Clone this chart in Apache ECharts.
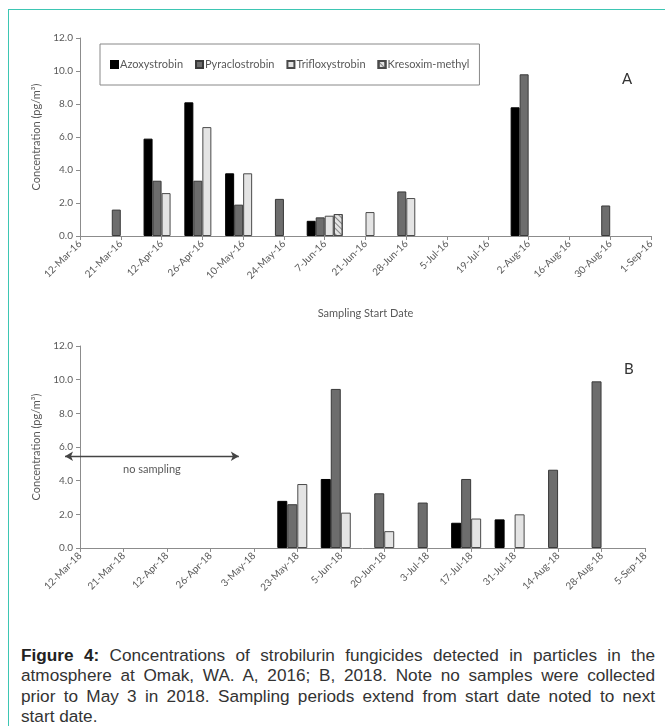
<!DOCTYPE html>
<html>
<head>
<meta charset="utf-8">
<script src="https://cdn.jsdelivr.net/npm/echarts@6/dist/echarts.min.js"></script>
<style>
  html, body { margin:0; padding:0; background:#fff; }
  #wrap { position:relative; width:665px; height:726px; overflow:hidden; }
  #frame { position:absolute; left:8px; top:9px; width:680px; height:740px; border-left:1.5px solid #3dc6b3; border-top:1.5px solid #3dc6b3; box-sizing:border-box; }
  #chart { position:absolute; left:0; top:0; width:665px; height:640px; }
  #caption { position:absolute; left:21px; top:645px; width:634px; font-family:"Liberation Sans",Arial,sans-serif; font-size:17.2px; line-height:20.4px; color:#333; }
  #caption div { text-align:justify; text-align-last:justify; white-space:nowrap; }
  #caption div.last { text-align-last:left; }
  #caption b { color:#222; }
</style>
</head>
<body>
<div id="wrap">
  <div id="frame"></div>
  <div id="chart"></div>
  <div id="caption">
    <div><b>Figure 4:</b> Concentrations of strobilurin fungicides detected in particles in the</div>
    <div>atmosphere at Omak, WA. A, 2016; B, 2018. Note no samples were collected</div>
    <div>prior to May 3 in 2018. Sampling periods extend from start date noted to next</div>
    <div class="last">start date.</div>
  </div>
</div>
<script>
// ---- data ----
const seriesNames = ['Azoxystrobin', 'Pyraclostrobin', 'Trifloxystrobin', 'Kresoxim-methyl'];
const yTicks = [0, 2, 4, 6, 8, 10, 12];

const cats2016 = ['12-Mar-16','21-Mar-16','12-Apr-16','26-Apr-16','10-May-16','24-May-16','7-Jun-16','21-Jun-16','28-Jun-16','5-Jul-16','19-Jul-16','2-Aug-16','16-Aug-16','30-Aug-16','1-Sep-16'];
const azo2016 = [null, null, 5.9, 8.1, 3.8, null, 0.92, null, null, null, null, 7.8, null, null, null];
const pyr2016 = [null, 1.6, 3.35, 3.35, 1.9, 2.25, 1.13, null, 2.7, null, null, 9.8, null, 1.85, null];
const tri2016 = [null, null, 2.6, 6.6, 3.8, null, 1.23, 1.45, 2.3, null, null, null, null, null, null];
const kre2016 = [null, null, null, null, null, null, 1.33, null, null, null, null, null, null, null, null];

const cats2018 = ['12-Mar-18','21-Mar-18','12-Apr-18','26-Apr-18','3-May-18','23-May-18','5-Jun-18','20-Jun-18','3-Jul-18','17-Jul-18','31-Jul-18','14-Aug-18','28-Aug-18','5-Sep-18'];
const azo2018 = [null, null, null, null, null, 2.8, 4.1, null, null, 1.5, 1.7, null, null, null];
const pyr2018 = [null, null, null, null, null, 2.6, 9.45, 3.25, 2.7, 4.1, null, 4.65, 9.9, null];
const tri2018 = [null, null, null, null, null, 3.8, 2.1, 1.0, null, 1.75, 2.0, null, null, null];
const kre2018 = [null, null, null, null, null, null, null, null, null, null, null, null, null, null];

const noSampling = { label: 'no sampling', from: '12-Mar-18', to: '3-May-18', y: 5.45 };

// ---- styles ----
const FONT = 'Lato, "Open Sans", sans-serif';
const TXT = '#595959';
const AXC = '#8c8c8c';
const styles = [
  { color: '#000000', borderColor: '#000000', borderWidth: 1 },
  { color: '#6d6d6d', borderColor: '#3a3a3a', borderWidth: 1 },
  { color: '#e4e4e4', borderColor: '#4a4a4a', borderWidth: 1 },
  { color: '#e4e4e4', borderColor: '#4a4a4a', borderWidth: 1,
    decal: { symbol: 'rect', symbolSize: 1, color: 'rgba(90,90,90,0.7)', dashArrayX: [1, 0], dashArrayY: [1, 3], rotation: Math.PI / 4 } }
];

function xAxis(gi, cats, withName) {
  return {
    type: 'category', gridIndex: gi, data: cats, boundaryGap: false,
    axisLine: { lineStyle: { color: AXC, width: 1 } },
    axisTick: { show: true, length: 4, lineStyle: { color: AXC } },
    axisLabel: { interval: 0, rotate: 45, fontSize: 10, color: TXT, fontFamily: FONT, margin: 6 },
    name: withName ? 'Sampling Start Date' : '', nameLocation: 'middle', nameGap: 72,
    nameTextStyle: { fontSize: 11, color: TXT, fontFamily: FONT }
  };
}
function yAxis(gi) {
  return {
    type: 'value', gridIndex: gi, min: yTicks[0], max: yTicks[yTicks.length - 1], interval: 2,
    axisLine: { show: true, lineStyle: { color: AXC, width: 1 } },
    axisTick: { show: true, length: 4, lineStyle: { color: AXC } },
    splitLine: { show: false },
    axisLabel: { formatter: v => v.toFixed(1), fontSize: 10, color: TXT, fontFamily: FONT, margin: 7 },
    name: 'Concentration (pg/m³)', nameLocation: 'middle', nameGap: 36, nameRotate: 90,
    nameTextStyle: { fontSize: 11, color: TXT, fontFamily: FONT }
  };
}
function bars(gi, arrs, w) {
  return arrs.map((d, i) => ({
    name: seriesNames[i], type: 'bar', xAxisIndex: gi, yAxisIndex: gi,
    data: d, barWidth: w, barGap: '0%', itemStyle: styles[i], silent: true
  }));
}

const s2016 = bars(0, [azo2016, pyr2016, tri2016, kre2016], 9);
const s2018 = bars(1, [azo2018, pyr2018, tri2018, kre2018], 10);
s2018[0].markLine = {
  silent: true, symbol: ['arrow', 'arrow'], symbolSize: [7, 8],
  lineStyle: { color: '#444', width: 1.3, type: 'solid' },
  label: { show: true, position: 'insideMiddleBottom', formatter: noSampling.label, fontSize: 11, color: TXT, fontFamily: FONT, distance: 8 },
  data: [[{ coord: [noSampling.from, noSampling.y] }, { coord: [noSampling.to, noSampling.y] }]]
};

const chart = echarts.init(document.getElementById('chart'), null, { renderer: 'canvas' });
chart.setOption({
  animation: false,
  title: [
    { text: 'A', left: 617, top: 67, textStyle: { fontSize: 15, fontWeight: 'normal', color: '#333', fontFamily: FONT } },
    { text: 'B', left: 619, top: 357, textStyle: { fontSize: 15, fontWeight: 'normal', color: '#333', fontFamily: FONT } }
  ],
  legend: {
    data: seriesNames, left: 100, top: 44, width: 373,
    padding: [15, 10, 15, 10], itemGap: 12, itemWidth: 7, itemHeight: 7,
    borderColor: '#888', borderWidth: 1,
    textStyle: { fontSize: 11, color: TXT, fontFamily: FONT, padding: [0, 0, 0, -3] },
    icon: 'rect', selectedMode: false
  },
  grid: [
    { left: 80, right: 14, top: 38, height: 198 },
    { left: 80, right: 20, top: 346, height: 202 }
  ],
  xAxis: [xAxis(0, cats2016, true), xAxis(1, cats2018, false)],
  yAxis: [yAxis(0), yAxis(1)],
  series: s2016.concat(s2018)
});
</script>
</body>
</html>
